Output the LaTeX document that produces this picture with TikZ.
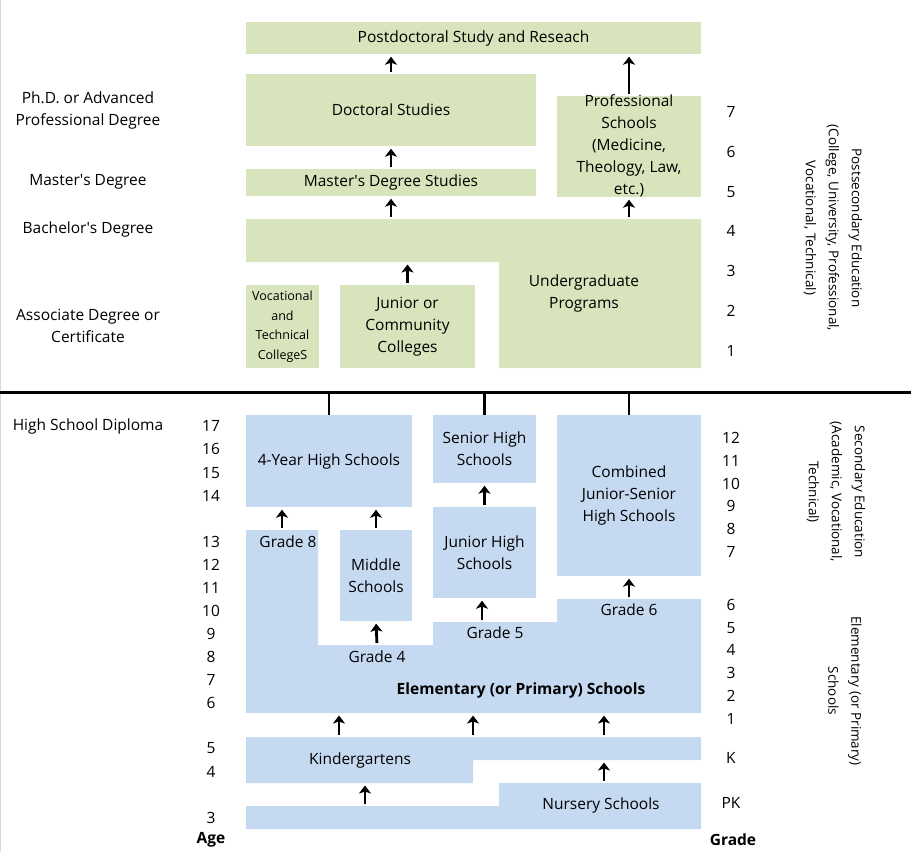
\documentclass[tikz,border=0pt]{standalone}
\usepackage{fontspec}
\setmainfont{Open Sans}
\usetikzlibrary{arrows.meta}

\definecolor{postgrn}{RGB}{216,228,188}
\definecolor{schblue}{RGB}{197,217,241}

\begin{document}
\begin{tikzpicture}
[
	x=1pt, y=-1pt,
	font=\fontsize{15.5}{22}\selectfont,
	gbox/.style={fill=postgrn,inner sep=0pt,align=center},
	bbox/.style={fill=schblue,inner sep=0pt,align=center},
	uparr/.style={-{Stealth[length=8pt,width=12pt,inset=2pt]},line width=2.8pt,shorten <=2pt,shorten >=2.5pt},
	riser/.style={line width=2.8pt},
	lbl/.style={align=center},
	hd/.style={font=\fontsize{15.5}{22}\selectfont\bfseries},
	side/.style={rotate=-90,align=center,font=\fontsize{13.5}{23}\selectfont}
]

	\useasboundingbox (0,0) rectangle (911,852);

	% page edge
	\draw[gray!30] (0.5,0) -- (0.5,852);

	% postsecondary boxes
	\node[gbox,minimum width=455,minimum height=32] (post) at (473.5,38) {Postdoctoral Study and Reseach};
	\node[gbox,minimum width=290,minimum height=72] (doct) at (391,110) {Doctoral Studies};
	\node[gbox,minimum width=290,minimum height=27] (mast) at (391,182.5) {};
	\node (mastt) at (391,182) {Master\textquotesingle s Degree Studies};
	\node[gbox,minimum width=144,minimum height=101] (prof) at (629,146.5) {};
	\node[lbl] (proft) at (629,146) {Professional\\Schools\\(Medicine,\\Theology, Law,\\etc.)};

	% bachelor / undergraduate block
	\fill[postgrn] (246,219) -- (701,219) -- (701,368) -- (499,368) -- (499,262) -- (246,262) -- cycle;
	\coordinate (bachtop) at (473,219);
	\coordinate (bachlow) at (370,262);
	\node[lbl] (ugrad) at (584,293) {Undergraduate\\Programs};

	\node[gbox,minimum width=73,minimum height=83,font=\fontsize{12.5}{19.5}\selectfont] (voc) at (282.5,326.5) {Vocational\\and\\Technical\\CollegeS};
	\node[gbox,minimum width=135,minimum height=83] (jun) at (407.5,326.5) {Junior or\\Community\\Colleges};

	% arrows, upper part
	\draw[uparr] (doct.north) -- (doct.north |- post.south);
	\draw[uparr] (mast.north) -- (doct.south);
	\draw[uparr] (bachtop -| mast.south) -- (mast.south);
	\draw[uparr] (bachtop -| prof.south) -- (prof.south);
	\draw[uparr] (prof.north) -- (prof.north |- post.south);
	\draw[uparr] (jun.north) -- (jun.north |- bachlow);

	% degree labels
	\node[lbl] (phd) at (88,110) {Ph.D. or Advanced\\Professional Degree};
	\node (ms) at (88,182) {Master\textquotesingle s Degree};
	\node (ba) at (88,229) {Bachelor\textquotesingle s Degree};
	\node[lbl] (aa) at (88,326) {Associate Degree or\\Certificate};

	% college years
	\foreach \g [count=\i from 0] in {7,6,...,1} {
		\node (gu\g) at (731,112+39.8*\i) {\g};
	}
	\node[side] (postsec) at (833,228) {Postsecondary Education\\(College, University, Professional,\\Vocational, Technical)};

	% divider
	\coordinate (divL) at (0,392);
	\coordinate (divR) at (911,392);
	\draw[line width=3pt] (divL) -- (divR);

	% secondary boxes
	\node[bbox,minimum width=166,minimum height=92] (hs4) at (329,461) {4-Year High Schools};
	\node[bbox,minimum width=103,minimum height=68] (senior) at (484.5,449) {Senior High\\Schools};
	\node[bbox,minimum width=144,minimum height=161] (comb) at (629,495.5) {Combined\\Junior-Senior\\High Schools};
	\node[bbox,minimum width=103,minimum height=91] (junhs) at (484.5,552.5) {Junior High\\Schools};
	\node[bbox,minimum width=72,minimum height=91] (mid) at (376,575.5) {Middle\\Schools};

	\draw[riser] (hs4.north) -- (hs4.north |- divL);
	\draw[riser] (senior.north) -- (senior.north |- divL);
	\draw[riser] (comb.north) -- (comb.north |- divL);

	% elementary block
	\fill[schblue] (246,530) -- (318,530) -- (318,645) -- (433,645) -- (433,622) -- (557,622)
	  -- (557,599) -- (701,599) -- (701,713) -- (246,713) -- cycle;
	\coordinate (el8) at (282,530);
	\coordinate (el4) at (377,645);
	\coordinate (el5) at (482,622);
	\coordinate (el6) at (629,599);
	\coordinate (elbot) at (473,713);
	\node (g8) at (288,542) {Grade 8};
	\node (g4) at (377,657) {Grade 4};
	\node (g5) at (495,633) {Grade 5};
	\node (g6) at (629,610) {Grade 6};
	\node[hd] (elem) at (521,690) {Elementary (or Primary) Schools};

	\draw[uparr] (el8) -- (el8 |- hs4.south);
	\draw[uparr] (mid.north) -- (mid.north |- hs4.south);
	\draw[uparr] (el4) -- (mid.south);
	\draw[uparr] (el5) -- (el5 |- junhs.south);
	\draw[uparr] (junhs.north) -- (senior.south);
	\draw[uparr] (el6) -- (comb.south);

	% kindergarten and nursery
	\fill[schblue] (246,737) -- (701,737) -- (701,760) -- (473,760) -- (473,783) -- (246,783) -- cycle;
	\coordinate (kgtop) at (473,737);
	\coordinate (kglow) at (365,783);
	\coordinate (kgright) at (604,760);
	\node (kg) at (360,760) {Kindergartens};

	\fill[schblue] (499,783) -- (701,783) -- (701,829) -- (246,829) -- (246,806) -- (499,806) -- cycle;
	\coordinate (nslow) at (365,806);
	\coordinate (nstop) at (604,783);
	\node (ns) at (601,805) {Nursery Schools};

	\draw[uparr] ([xshift=-134pt]kgtop) -- ([xshift=-134pt]elbot);
	\draw[uparr] (kgtop) -- (elbot);
	\draw[uparr] ([xshift=131pt]kgtop) -- ([xshift=131pt]elbot);
	\draw[uparr] (nslow) -- (kglow);
	\draw[uparr] (nstop) -- (kgright);

	% ages and grades
	\node (hsd) at (88,426) {High School Diploma};
	\foreach \a/\y in {17/426,16/449,15/473,14/496,13/542,12/565,11/588,10/611,9/634,8/657,7/680,6/703,5/748,4/772,3/818} {
		\node (age\a) at (211,\y) {\a};
	}
	\node[hd] (agehd) at (211,840) {Age};
	\foreach \g/\y in {12/438,11/461,10/484,9/506,8/529,7/552,6/605,5/628,4/650,3/673,2/696,1/719,K/758,PK/803} {
		\node (gl\g) at (731,\y) {\g};
	}
	\node[hd] (gradehd) at (733,840) {Grade};

	\node[side] (secd) at (836,492) {Secondary Education\\(Academic, Vocational,\\Technical)};
	\node[side] (elsd) at (845,691) {Elementary (or Primary)\\Schools};

\end{tikzpicture}
\end{document}
